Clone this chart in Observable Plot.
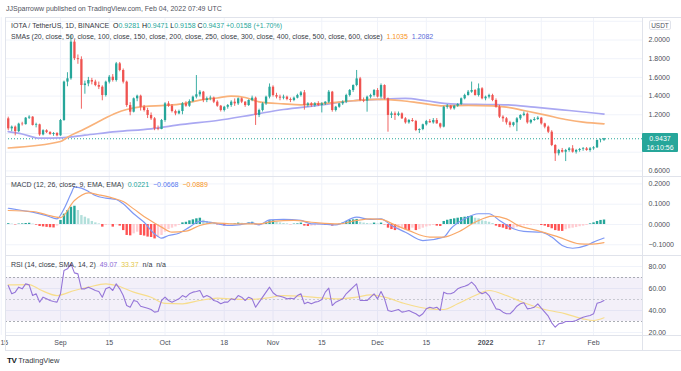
<!DOCTYPE html>
<html><head><meta charset="utf-8">
<script src="https://cdn.jsdelivr.net/npm/d3@7"></script>
<script src="https://cdn.jsdelivr.net/npm/@observablehq/plot@0.6"></script>
<style>
body{margin:0;background:#fff;}
#root{position:relative;width:681px;height:371px;overflow:hidden;font-family:"Liberation Sans",Arial,sans-serif;color:#131722;}
.a{position:absolute;white-space:nowrap;}
.t{font-size:7px;line-height:9px;}
.ln{position:absolute;background:#e0e3eb;}
.g{color:#26a69a}
.svgwrap{position:absolute;left:0;}
</style></head><body><div id="root"></div>
<script>
// ---------------- DATA ----------------
const firstDay = "2021-08-17"; // daily candles Aug 17 2021 .. Feb 4 2022
const open = [1.157,1.050,1.068,1.020,1.100,1.095,1.164,1.175,1.086,1.093,0.985,1.030,1.010,0.990,1.000,
 0.975,1.139,1.550,1.585,1.977,1.800,1.790,1.513,1.530,1.567,
 1.550,1.513,1.495,1.406,1.549,1.602,1.567,1.745,1.674,1.549,
 1.299,1.228,1.371,1.399,1.281,1.246,1.193,1.157,1.050,1.043,
 1.139,1.317,1.292,1.235,1.210,1.235,1.317,1.292,1.342,1.389,
 1.414,1.442,1.353,1.371,1.378,1.335,1.292,1.246,1.281,1.299,
 1.335,1.317,1.371,1.335,1.299,1.353,1.378,1.193,1.246,1.317,
 1.389,1.495,1.406,1.389,1.378,1.389,1.364,1.353,1.378,1.406,
 1.435,1.299,1.317,1.299,1.317,1.299,1.317,1.335,1.442,1.246,
 1.281,1.317,1.335,1.406,1.460,1.513,1.584,1.353,1.346,1.389,
 1.406,1.460,1.389,1.513,1.371,1.193,1.210,1.193,1.210,1.157,
 1.114,1.139,1.128,1.032,1.043,1.093,1.128,1.114,1.139,1.103,
 1.068,1.281,1.292,1.264,1.292,1.310,1.371,1.406,1.442,1.460,
 1.406,1.478,1.371,1.389,1.406,1.353,1.281,1.175,1.157,1.114,
 1.086,1.114,1.157,1.193,1.207,1.114,1.139,1.150,1.164,1.103,
 1.068,1.014,0.872,0.783,0.818,0.800,0.818,0.836,0.800,0.818,
 0.829,0.836,0.818,0.836,0.847,0.925,0.9281];
const high = [1.175,1.080,1.080,1.110,1.120,1.170,1.190,1.180,1.110,1.100,1.040,1.040,1.020,1.010,1.010,
 1.150,1.560,1.650,2.050,2.000,1.840,1.820,1.560,1.600,1.590,
 1.570,1.550,1.510,1.560,1.620,1.630,1.760,1.760,1.690,1.560,
 1.330,1.380,1.410,1.410,1.300,1.270,1.220,1.170,1.080,1.150,
 1.330,1.340,1.310,1.250,1.250,1.330,1.340,1.360,1.400,1.620,
 1.460,1.450,1.390,1.400,1.390,1.350,1.300,1.290,1.310,1.350,
 1.370,1.380,1.380,1.340,1.360,1.400,1.390,1.260,1.330,1.400,
 1.530,1.510,1.430,1.410,1.410,1.400,1.380,1.390,1.420,1.450,
 1.460,1.330,1.330,1.330,1.340,1.330,1.340,1.460,1.450,1.290,
 1.320,1.350,1.420,1.470,1.520,1.674,1.600,1.380,1.400,1.420,
 1.470,1.480,1.530,1.520,1.380,1.230,1.230,1.230,1.220,1.170,
 1.150,1.160,1.140,1.050,1.100,1.140,1.150,1.160,1.160,1.110,
 1.290,1.310,1.300,1.300,1.320,1.380,1.420,1.460,1.550,1.470,
 1.530,1.490,1.400,1.420,1.420,1.370,1.300,1.190,1.170,1.130,
 1.120,1.170,1.200,1.230,1.220,1.150,1.170,1.180,1.170,1.110,
 1.080,1.030,0.880,0.830,0.840,0.830,0.850,0.870,0.830,0.840,
 0.850,0.850,0.850,0.860,0.930,0.940,0.9471];
const low = [1.030,1.020,0.975,1.010,1.080,1.090,1.150,1.080,1.060,0.970,0.975,1.000,0.980,0.970,0.965,
 0.970,1.130,1.500,1.570,1.780,1.740,1.260,1.420,1.500,1.520,
 1.500,1.470,1.350,1.390,1.530,1.550,1.550,1.660,1.530,1.280,
 1.190,1.220,1.340,1.240,1.230,1.160,1.140,1.030,1.030,1.040,
 1.120,1.280,1.220,1.190,1.200,1.200,1.280,1.280,1.330,1.370,
 1.390,1.330,1.330,1.350,1.320,1.280,1.230,1.230,1.260,1.280,
 1.290,1.300,1.320,1.280,1.290,1.340,1.086,1.170,1.230,1.300,
 1.370,1.390,1.370,1.350,1.360,1.350,1.330,1.340,1.370,1.390,
 1.250,1.280,1.280,1.280,1.290,1.220,1.300,1.320,1.228,1.230,
 1.270,1.300,1.320,1.390,1.440,1.500,1.340,1.330,1.228,1.370,
 1.390,1.380,1.370,1.360,1.014,1.160,1.140,1.180,1.150,1.100,
 1.100,1.120,1.020,1.000,1.030,1.080,1.110,1.100,1.100,1.050,
 1.060,1.260,1.250,1.250,1.280,1.300,1.360,1.400,1.430,1.400,
 1.390,1.360,1.350,1.370,1.340,1.270,1.160,1.120,1.090,1.060,
 1.070,1.020,1.140,1.180,1.100,1.100,1.130,1.140,1.090,1.050,
 1.000,0.860,0.701,0.760,0.790,0.700,0.800,0.790,0.780,0.800,
 0.810,0.810,0.800,0.820,0.840,0.900,0.9158];
const close = [1.050,1.068,1.020,1.100,1.095,1.164,1.175,1.086,1.093,0.985,1.030,1.010,0.990,1.000,0.975,
 1.139,1.550,1.585,1.977,1.800,1.790,1.513,1.530,1.567,1.550,
 1.513,1.495,1.406,1.549,1.602,1.567,1.745,1.674,1.549,1.299,
 1.228,1.371,1.399,1.281,1.246,1.193,1.157,1.050,1.043,1.139,
 1.317,1.292,1.235,1.210,1.235,1.317,1.292,1.342,1.389,1.414,
 1.442,1.353,1.371,1.378,1.335,1.292,1.246,1.281,1.299,1.335,
 1.317,1.371,1.335,1.299,1.353,1.378,1.193,1.246,1.317,1.389,
 1.495,1.406,1.389,1.378,1.389,1.364,1.353,1.378,1.406,1.435,
 1.299,1.317,1.299,1.317,1.299,1.317,1.335,1.442,1.246,1.281,
 1.317,1.335,1.406,1.460,1.513,1.584,1.353,1.346,1.389,1.406,
 1.460,1.389,1.513,1.371,1.193,1.210,1.193,1.210,1.157,1.114,
 1.139,1.128,1.032,1.043,1.093,1.128,1.114,1.139,1.103,1.068,
 1.281,1.292,1.264,1.292,1.310,1.371,1.406,1.442,1.460,1.406,
 1.478,1.371,1.389,1.406,1.353,1.281,1.175,1.157,1.114,1.086,
 1.114,1.157,1.193,1.207,1.114,1.139,1.150,1.164,1.103,1.068,
 1.014,0.872,0.783,0.818,0.800,0.818,0.836,0.800,0.818,0.829,
 0.836,0.818,0.836,0.847,0.925,0.9281,0.9437];

// SMA lines (orange = 1.1035 at the end, blue = 1.2082)
const smaOrangeDates = ["2021-08-17","2021-09-01","2021-09-03","2021-09-08","2021-09-12","2021-09-17","2021-09-20","2021-09-25","2021-10-01","2021-10-06","2021-10-11","2021-10-16","2021-10-20","2021-10-24","2021-10-28","2021-11-04","2021-11-09","2021-11-14","2021-11-24","2021-12-01","2021-12-08","2021-12-13","2021-12-20","2021-12-27","2022-01-03","2022-01-07","2022-01-12","2022-01-18","2022-01-24","2022-01-29","2022-02-04"];
const smaOrangeValues = [0.845,0.914,0.960,1.050,1.128,1.220,1.257,1.290,1.300,1.317,1.357,1.380,1.400,1.385,1.339,1.317,1.307,1.317,1.350,1.364,1.350,1.328,1.296,1.300,1.296,1.282,1.246,1.200,1.150,1.121,1.1035];
const smaBlueDates = ["2021-08-17","2021-08-21","2021-08-26","2021-09-01","2021-09-08","2021-09-17","2021-09-27","2021-10-06","2021-10-16","2021-10-26","2021-11-04","2021-11-14","2021-11-24","2021-12-01","2021-12-09","2021-12-15","2021-12-22","2022-01-01","2022-01-07","2022-01-15","2022-01-25","2022-02-04"];
const smaBlueValues = [1.020,0.995,0.950,0.954,0.982,1.020,1.050,1.097,1.139,1.200,1.257,1.300,1.350,1.364,1.375,1.350,1.317,1.310,1.307,1.282,1.246,1.2082];

// MACD histogram, one value per candle
const macdHist = [0.004,0.002,-0.002,0.002,0.003,0.005,0.006,0.002,-0.003,-0.010,-0.012,-0.014,-0.016,-0.017,-0.008,
 0.020,0.051,0.069,0.085,0.090,0.069,0.044,0.036,0.028,0.015,
 0.008,0.003,-0.013,-0.005,-0.002,-0.013,-0.002,-0.008,-0.030,-0.054,
 -0.056,-0.046,-0.038,-0.054,-0.057,-0.062,-0.064,-0.071,-0.062,-0.054,
 -0.038,-0.025,-0.018,-0.012,-0.005,0.008,0.011,0.018,0.023,0.028,
 0.031,0.021,0.015,0.011,0.007,-0.002,-0.005,-0.007,-0.003,0.001,
 0.003,0.007,0.006,0.003,0.008,0.011,-0.002,-0.005,-0.002,0.008,
 0.018,0.019,0.011,0.008,0.005,0.003,-0.001,0.002,0.003,0.007,
 -0.008,-0.010,-0.008,-0.007,-0.005,-0.003,-0.004,-0.002,-0.008,-0.005,
 0.001,0.007,0.015,0.020,0.023,0.025,0.011,0.007,0.005,0.003,
 0.007,0.003,0.007,-0.002,-0.018,-0.025,-0.030,-0.025,-0.018,-0.026,
 -0.030,-0.018,-0.030,-0.025,-0.018,-0.012,-0.008,-0.005,-0.008,-0.010,
 0.015,0.021,0.025,0.028,0.031,0.034,0.036,0.039,0.041,0.031,
 0.028,0.018,0.015,0.011,0.005,-0.008,-0.015,-0.018,-0.025,-0.028,
 -0.021,-0.015,-0.008,-0.006,-0.005,-0.003,-0.002,-0.002,-0.005,-0.008,
 -0.015,-0.021,-0.030,-0.033,-0.034,-0.026,-0.021,-0.018,-0.015,-0.011,
 -0.008,-0.005,0.003,0.008,0.015,0.020,0.0221];
const macdDates = ["2021-08-17","2021-08-21","2021-08-24","2021-08-28","2021-08-31","2021-09-02","2021-09-04","2021-09-05","2021-09-07","2021-09-09","2021-09-11","2021-09-14","2021-09-17","2021-09-19","2021-09-22","2021-09-25","2021-09-28","2021-09-30","2021-10-02","2021-10-05","2021-10-08","2021-10-11","2021-10-15","2021-10-19","2021-10-22","2021-10-26","2021-10-28","2021-10-31","2021-11-04","2021-11-09","2021-11-12","2021-11-14","2021-11-19","2021-11-25","2021-11-29","2021-12-02","2021-12-05","2021-12-09","2021-12-14","2021-12-20","2021-12-22","2021-12-26","2021-12-30","2022-01-02","2022-01-05","2022-01-09","2022-01-12","2022-01-17","2022-01-20","2022-01-23","2022-01-26","2022-01-30","2022-02-01","2022-02-04"];
const macdValues = [0.080,0.069,0.061,0.044,0.028,0.077,0.151,0.184,0.179,0.163,0.143,0.130,0.123,0.102,0.053,0.011,-0.046,-0.067,-0.054,-0.043,-0.013,0.015,0.008,-0.005,-0.002,0.008,-0.002,0.023,0.025,0.020,0.003,0.003,-0.002,0.036,0.025,0.028,-0.005,-0.038,-0.079,-0.062,-0.021,0.028,0.053,0.053,0.020,-0.021,-0.034,-0.038,-0.062,-0.103,-0.117,-0.103,-0.087,-0.0668];
const signalDates = ["2021-08-17","2021-08-24","2021-08-28","2021-09-01","2021-09-05","2021-09-09","2021-09-12","2021-09-16","2021-09-19","2021-09-22","2021-09-26","2021-09-30","2021-10-03","2021-10-07","2021-10-11","2021-10-15","2021-10-21","2021-10-28","2021-11-01","2021-11-07","2021-11-12","2021-11-14","2021-11-20","2021-11-25","2021-11-29","2021-12-02","2021-12-06","2021-12-10","2021-12-16","2021-12-20","2021-12-24","2021-12-29","2022-01-03","2022-01-07","2022-01-10","2022-01-16","2022-01-22","2022-01-28","2022-01-31","2022-02-04"];
const signalValues = [0.069,0.064,0.048,0.034,0.118,0.156,0.146,0.130,0.113,0.077,0.028,-0.013,-0.038,-0.033,-0.005,0.008,0.003,0.003,0.015,0.020,0.011,0.008,0.003,0.020,0.028,0.025,-0.002,-0.030,-0.062,-0.062,-0.038,0.011,0.041,0.028,-0.002,-0.030,-0.062,-0.095,-0.097,-0.0889];

// RSI, one value per candle, and its SMA
const rsi = [62.7,55.2,56.7,61.2,59.7,64.2,63.3,53.6,55.2,47.6,52.1,50.6,49.1,48.2,47.6,
 55.2,76.4,77.9,82.4,74.2,73.3,59.7,59.7,61.2,59.7,
 58.2,57.3,52.1,59.7,61.2,58.2,64.2,59.7,53.6,44.5,
 43.0,49.1,48.2,43.9,43.0,42.1,40.9,38.5,39.1,49.1,
 52.1,49.1,47.6,49.1,50.6,53.6,52.1,55.2,56.7,57.3,
 58.2,52.1,53.6,52.1,49.1,48.2,46.1,47.6,47.6,50.6,
 49.7,53.6,52.1,49.1,52.1,50.6,43.0,47.6,52.1,56.7,
 61.2,56.1,53.6,53.0,52.1,50.6,51.2,50.6,53.6,55.2,
 46.1,47.6,46.1,47.6,48.2,50.0,56.7,60.3,44.5,47.6,
 49.1,50.6,55.2,58.2,61.2,64.2,49.1,49.1,49.1,52.1,
 55.2,50.6,57.3,50.6,40.0,39.1,40.0,40.9,38.5,39.1,
 40.0,38.5,37.0,34.8,37.0,41.5,43.0,42.1,43.0,40.0,
 56.7,55.2,55.2,56.7,59.7,61.2,62.1,63.3,65.8,62.7,
 57.3,55.2,56.7,53.6,47.6,41.5,40.9,38.5,37.0,37.0,
 40.0,43.9,46.1,47.0,41.5,42.1,43.0,46.1,42.1,38.5,
 34.8,28.8,24.8,27.9,28.5,30.0,30.0,30.0,30.9,32.4,
 33.9,34.8,35.5,37.0,46.5,47.5,49.07];
const rsiMaDates = ["2021-08-17","2021-08-23","2021-08-26","2021-08-31","2021-09-05","2021-09-09","2021-09-14","2021-09-17","2021-09-22","2021-09-27","2021-10-01","2021-10-06","2021-10-11","2021-10-16","2021-10-20","2021-10-25","2021-10-30","2021-11-04","2021-11-09","2021-11-13","2021-11-20","2021-11-25","2021-11-29","2021-12-03","2021-12-09","2021-12-16","2021-12-20","2021-12-24","2021-12-29","2022-01-02","2022-01-07","2022-01-12","2022-01-18","2022-01-24","2022-01-29","2022-02-01","2022-02-04"];
const rsiMaValues = [63.3,63.6,59.1,53.6,58.2,61.2,64.2,62.7,56.7,52.1,46.5,46.1,49.1,51.2,50.6,50.0,51.2,53.6,53.0,52.0,50.6,52.1,54.2,52.1,46.1,41.5,40.9,46.1,53.6,58.2,53.6,47.0,40.9,37.0,32.4,30.9,33.37];

// Axis ticks
const timeTickDates = ["2021-08-15","2021-09-01","2021-09-15","2021-10-01","2021-10-18","2021-11-01","2021-11-15","2021-12-01","2021-12-15","2022-01-01","2022-01-17","2022-02-01"];
const timeTickLabels = ["15","Sep","15","Oct","18","Nov","15","Dec","15","2022","17","Feb"];
const priceGridTicks = [0.6,0.8,1.0,1.2,1.4,1.6,1.8,2.0,2.2];
const priceLabelTicks = [0.6,1.2,1.4,1.6,1.8,2.0]; // 0.8, 1.0 and 2.2 sit under the badge / currency box
const macdTicks = [-0.1,0,0.1,0.2];
const rsiTicks = [20,40,60,80];
const rsiBands = [30,50,70];

// ---------------- LAYOUT ----------------
const UP="#26a69a", DOWN="#ef5350", GRID="#f0f3fa", FONT='"Liberation Sans",Arial,sans-serif';
const DAY=864e5, W=681, LEFT=5, RIGHT=642;
const sep1=Date.UTC(2021,8,1), X_SEP1=60, PXD=3.484;
const xDomain=[new Date(sep1-(X_SEP1-LEFT)/PXD*DAY), new Date(sep1+(RIGHT-X_SEP1)/PXD*DAY)];
const parse=d3.utcParse("%Y-%m-%d");
const t0=parse(firstDay);
const candles=close.map((c,i)=>({date:new Date(+t0+i*DAY),open:open[i],high:high[i],low:low[i],close:c}));
const pts=(ds,vs)=>ds.map((d,i)=>({date:parse(d),v:vs[i]}));
const tickDates=timeTickDates.map(parse);
const histData=macdHist.map((v,i)=>({date:candles[i].date,v,
  c: v>=0 ? (i===0||v>=macdHist[i-1] ? "#26a69a" : "#b2dfdb") : (i>0&&v<macdHist[i-1] ? "#ff5252" : "#ffcdd2")}));
const rsiData=rsi.map((v,i)=>({date:candles[i].date,v}));
const minus=s=>s.replace("-","\u2212");

const common={width:W,marginLeft:LEFT,marginRight:W-RIGHT,marginTop:0,
  style:{fontFamily:FONT,fontSize:"7px",color:"#4c4f59",background:"transparent",overflow:"visible"}};
const cf=d=>d.close>=d.open?UP:DOWN;

const pricePlot=Plot.plot({...common,height:159,marginBottom:0,
  x:{type:"utc",domain:xDomain,axis:null},
  y:{domain:[1+(133-176)/93.5,1+(133-17)/93.5],axis:"right",ticks:priceLabelTicks,tickFormat:d=>d.toFixed(4),tickSize:0,tickPadding:6,label:null},
  marks:[
    Plot.ruleX(tickDates,{stroke:GRID}),
    Plot.ruleY(priceGridTicks,{stroke:GRID}),
    Plot.ruleY([close[close.length-1]],{stroke:UP,strokeDasharray:"1,2",strokeWidth:1}),
    Plot.line(pts(smaBlueDates,smaBlueValues),{x:"date",y:"v",stroke:"#aaa8f2",strokeWidth:1.7,curve:"monotone-x"}),
    Plot.line(pts(smaOrangeDates,smaOrangeValues),{x:"date",y:"v",stroke:"#f9b27a",strokeWidth:1.7,curve:"monotone-x"}),
    Plot.ruleX(candles,{x:"date",y1:"low",y2:"high",stroke:cf,strokeWidth:0.9}),
    Plot.ruleX(candles,{x:"date",y1:"open",y2:"close",stroke:cf,strokeWidth:2.3})
  ]});

const macdPlot=Plot.plot({...common,height:79,marginBottom:0,
  x:{type:"utc",domain:xDomain,axis:null},
  y:{domain:[(224-255)/203,(224-176)/203],axis:"right",ticks:macdTicks,tickFormat:d=>minus(d.toFixed(4)),tickSize:0,tickPadding:6,label:null},
  marks:[
    Plot.ruleX(tickDates,{stroke:GRID}),
    Plot.ruleY(macdTicks,{stroke:GRID}),
    Plot.ruleX(histData,{x:"date",y1:0,y2:"v",stroke:"c",strokeWidth:2.4}),
    Plot.line(pts(macdDates,macdValues),{x:"date",y:"v",stroke:"#7e98f4",strokeWidth:1.2,curve:"monotone-x"}),
    Plot.line(pts(signalDates,signalValues),{x:"date",y:"v",stroke:"#f9a868",strokeWidth:1.2,curve:"monotone-x"})
  ]});

const rsiPlot=Plot.plot({...common,height:95,marginBottom:15,
  x:{type:"utc",domain:xDomain,ticks:tickDates,tickFormat:d=>timeTickLabels[tickDates.findIndex(t=>+t===+d)],tickSize:0,tickPadding:5,label:null},
  y:{domain:[80-(335-266)/1.1,80+(266-255)/1.1],axis:"right",ticks:rsiTicks,tickFormat:d=>d.toFixed(2),tickSize:0,tickPadding:6,label:null},
  marks:[
    Plot.ruleX(tickDates,{stroke:GRID}),
    Plot.ruleY(rsiTicks,{stroke:GRID}),
    Plot.rect([{x1:xDomain[0],x2:xDomain[1],y1:rsiBands[0],y2:rsiBands[2]}],{x1:"x1",x2:"x2",y1:"y1",y2:"y2",fill:"#7e57c2",fillOpacity:0.09}),
    Plot.ruleY([rsiBands[0],rsiBands[2]],{stroke:"#9598a1",strokeDasharray:"2,2",strokeOpacity:0.8}),
    Plot.ruleY([rsiBands[1]],{stroke:"#9598a1",strokeDasharray:"2,2",strokeOpacity:0.45}),
    Plot.line(pts(rsiMaDates,rsiMaValues),{x:"date",y:"v",stroke:"#f7dd8c",strokeWidth:1.2,curve:"monotone-x"}),
    Plot.line(rsiData,{x:"date",y:"v",stroke:"#9575d8",strokeWidth:1.1})
  ]});

const root=document.getElementById("root");
function place(el,top){const w=document.createElement("div");w.className="svgwrap";w.style.top=top+"px";w.appendChild(el);root.appendChild(w);}
place(pricePlot,17);place(macdPlot,176);place(rsiPlot,255);
d3.select(rsiPlot).selectAll("text").filter(function(){return this.textContent==="2022";}).attr("font-weight","bold");
// keep the partly off-screen first date label inside the picture
d3.select(rsiPlot).selectAll("text").each(function(){
  const b=this.getBBox(); const m=this.getCTM();
  const left=b.x*(m?m.a:1)+(m?m.e:0);
  if(left<0.5) this.setAttribute("dx",(0.5-left).toFixed(1));
});

function line(l,t,w,h){const d=document.createElement("div");d.className="ln";Object.assign(d.style,{left:l+"px",top:t+"px",width:w+"px",height:h+"px"});root.appendChild(d);}
line(5,17,676,1);line(5,17,1,333);line(642,17,1,333);line(5,176,676,1);line(5,255,676,1);line(5,335,676,1);line(5,350,676,1);

function html(l,t,s,extra){const d=document.createElement("div");d.className="a t";d.style.left=l+"px";d.style.top=t+"px";if(extra)Object.assign(d.style,extra);d.innerHTML=s;root.appendChild(d);return d;}
html(6,4,'JJSparroww published on TradingView.com, Feb 04, 2022 07:49 UTC',{color:"#50535e"});
html(11,21,'<span style="color:#363a45">IOTA / TetherUS, 1D, BINANCE</span>&nbsp; O<span class="g">0.9281</span> H<span class="g">0.9471</span> L<span class="g">0.9158</span> C<span class="g">0.9437</span> <span class="g">+0.0158 (+1.70%)</span>');
html(11,32,'<span style="color:#363a45">SMAs (20, close, 50, close, 100, close, 150, close, 200, close, 250, close, 300, close, 400, close, 500, close, 600, close)</span>&nbsp; <span style="color:#f7931a">1.1035</span>&nbsp; <span style="color:#5b6bd9">1.2082</span>');
html(11,180,'<span style="color:#363a45">MACD (12, 26, close, 9, EMA, EMA)</span>&nbsp; <span class="g">0.0221</span>&nbsp; <span style="color:#5b7bf0">\u22120.0668</span>&nbsp; <span style="color:#f7931a">\u22120.0889</span>');
html(11,260,'<span style="color:#363a45">RSI (14, close, SMA, 14, 2)</span>&nbsp; <span style="color:#8c6ad6">49.07</span>&nbsp; <span style="color:#e6c84a">33.37</span>&nbsp; <span style="color:#363a45">n/a&nbsp; n/a</span>');
// last price badge and currency box
html(642,133,'0.9437<br>16:10:56',{width:"36px",height:"19px",background:UP,color:"#fff",textAlign:"center",lineHeight:"9px",paddingTop:"1px",boxSizing:"border-box",borderRadius:"1px"});
html(649,20,'USDT',{width:"22px",height:"10px",background:"#fff",border:"1px solid #e0e3eb",borderRadius:"2px",textAlign:"center",lineHeight:"9px",fontSize:"6.5px",color:"#50535e",boxSizing:"border-box"});
// logo
html(7,356,'<b style="font-size:8px;letter-spacing:-0.5px;color:#131722">TV</b>&nbsp;<span style="font-size:7.5px;color:#363a45">TradingView</span>');
</script></body></html>
